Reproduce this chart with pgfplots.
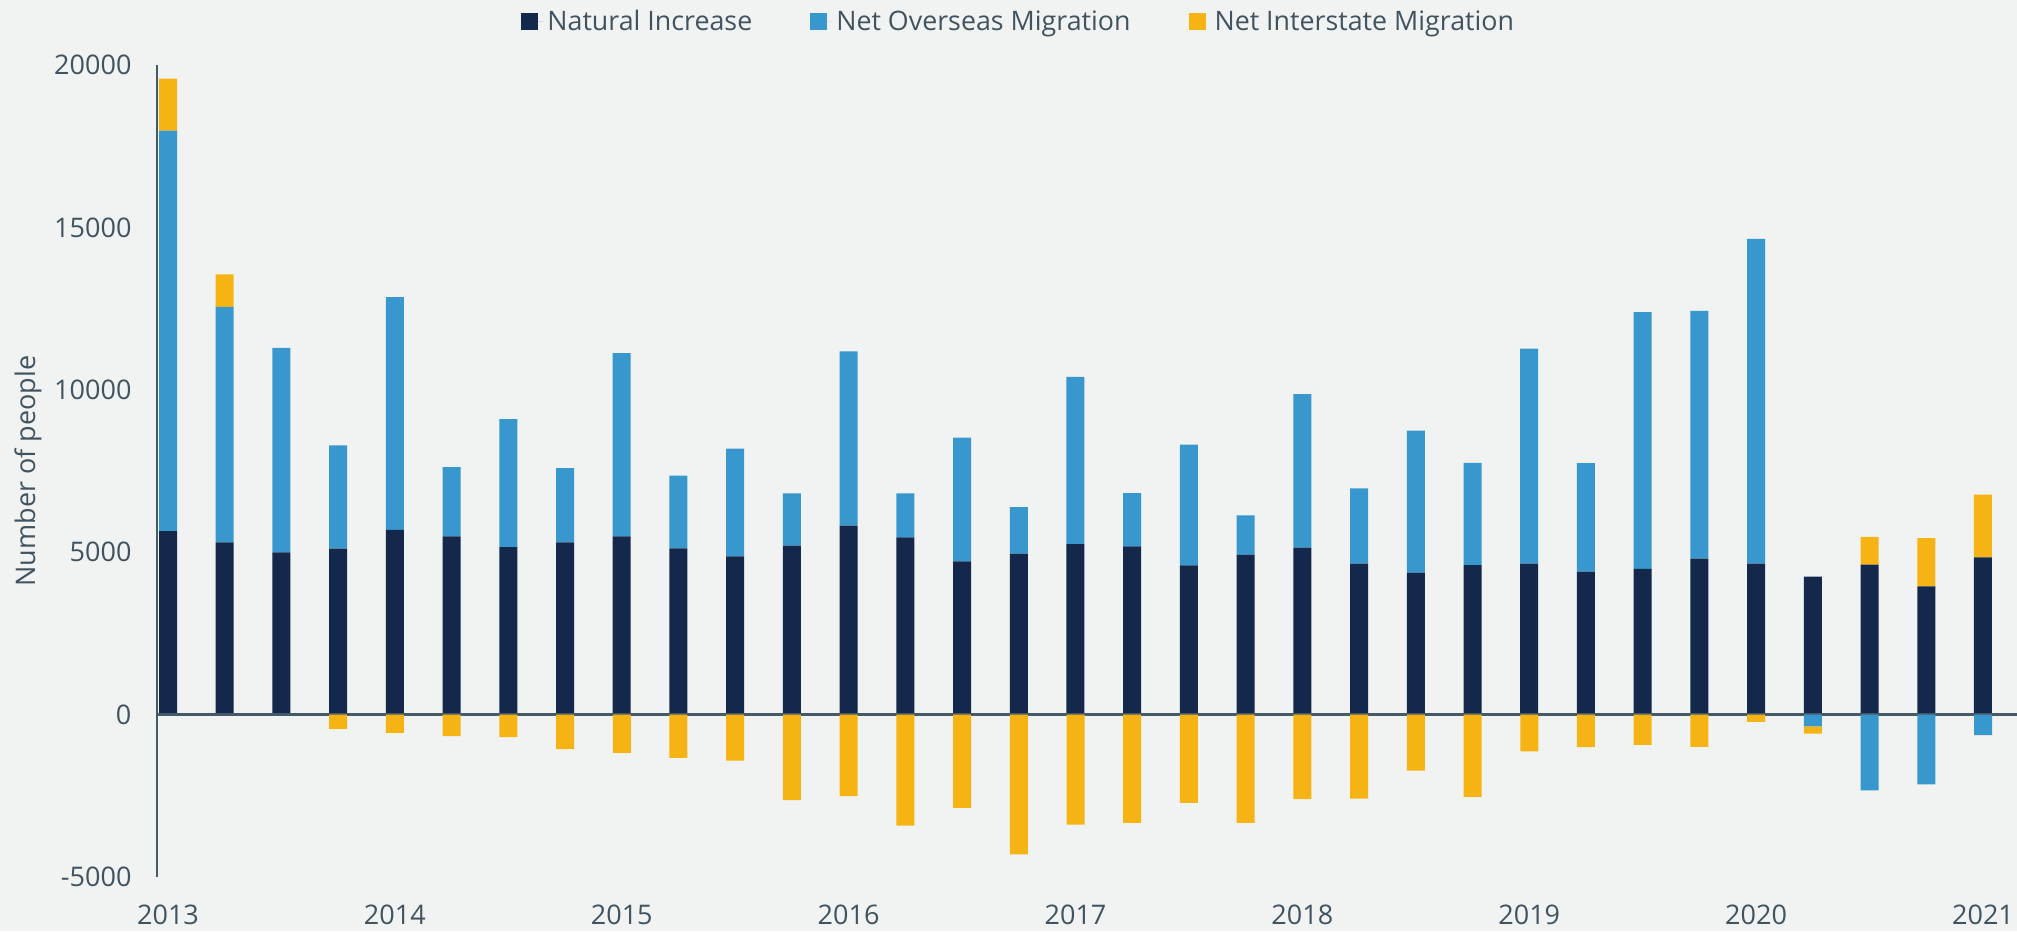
\documentclass[border=0pt]{standalone}
\usepackage{pgfplots}
\pgfplotsset{compat=1.18}
\usepackage{fontspec}
\setmainfont{Open Sans}
\definecolor{navy}{HTML}{13284B}
\definecolor{bluec}{HTML}{3898CD}
\definecolor{yellowc}{HTML}{F5B314}
\definecolor{bgc}{HTML}{F1F3F2}
\definecolor{textc}{HTML}{41535F}
\definecolor{axisc}{HTML}{455A66}
\begin{document}
\begin{tikzpicture}
\path[fill=bgc] (-78.5pt,-27pt) rectangle (930pt,438.5pt);
\path[use as bounding box] (-78.5pt,-27pt) rectangle (930pt,438.5pt);
\pgfplotsset{
  common/.style={
    at={(0pt,0pt)}, anchor=south west, scale only axis,
    width=930pt, height=406pt,
    xmin=-0.194, xmax=32.6, ymin=-5000, ymax=20000,
    ybar stacked, bar width=9pt,
  }
}
\begin{axis}[common,
  axis y line*=left, axis x line*=bottom,
  x axis line style={draw=none},
  y axis line style={draw=axisc, line width=1.4pt},
  major tick length=0pt,
  scaled y ticks=false,
  xtick={0,4,8,12,16,20,24,28,32},
  xticklabels={2013,2014,2015,2016,2017,2018,2019,2020,2021},
  ytick={-5000,0,5000,10000,15000,20000},
  yticklabels={-5000,0,5000,10000,15000,20000},
  every tick label/.append style={font=\fontsize{13.5}{16}\selectfont, text=textc},
  xticklabel style={yshift=-10.5pt},
  yticklabel style={xshift=-9.25pt},
  ylabel={Number of people},
  every axis y label/.style={at={(axis description cs:-0.0694,0.5)}, rotate=90, anchor=center, font=\fontsize{13.5}{16}\selectfont, text=textc},
  legend columns=3,
  legend style={draw=none, fill=none, inner sep=0pt, at={(axis description cs:0.1957,1.053)}, anchor=west,
    font=\fontsize{13.4}{16}\selectfont, text=textc,
    /tikz/every even column/.append style={column sep=27pt}},
  legend image code/.code={\fill[#1] (0pt,-4.25pt) rectangle (8.5pt,4.25pt);\path (0pt,0pt) -- (11pt,0pt);},
]
% Natural Increase
\addplot[fill=navy, draw=none] coordinates {
(0,5650) (1,5300) (2,4995) (3,5110) (4,5690) (5,5490) (6,5160) (7,5300) (8,5490)
(9,5120) (10,4870) (11,5200) (12,5815) (13,5455) (14,4720) (15,4955) (16,5250)
(17,5180) (18,4595) (19,4925) (20,5140) (21,4645) (22,4370) (23,4605) (24,4645)
(25,4400) (26,4490) (27,4800) (28,4645) (29,4245) (30,4615) (31,3950) (32,4840)};
% Net Overseas Migration (positive part)
\addplot[fill=bluec, draw=none] coordinates {
(0,12330) (1,7250) (2,6295) (3,3180) (4,7160) (5,2130) (6,3940) (7,2290) (8,5640)
(9,2240) (10,3315) (11,1610) (12,5365) (13,1355) (14,3810) (15,1435) (16,5150)
(17,1640) (18,3715) (19,1205) (20,4730) (21,2320) (22,4370) (23,3145) (24,6625)
(25,3345) (26,7900) (27,7630) (28,10005) (29,0) (30,0) (31,0) (32,0)};
% Net Interstate Migration (positive part)
\addplot[fill=yellowc, draw=none] coordinates {
(0,1600) (1,1000) (2,0) (3,0) (4,0) (5,0) (6,0) (7,0) (8,0)
(9,0) (10,0) (11,0) (12,0) (13,0) (14,0) (15,0) (16,0)
(17,0) (18,0) (19,0) (20,0) (21,0) (22,0) (23,0) (24,0)
(25,0) (26,0) (27,0) (28,0) (29,0) (30,860) (31,1485) (32,1930)};
\legend{Natural Increase, Net Overseas Migration, Net Interstate Migration}
\end{axis}
\begin{axis}[common, hide axis]
% Net Overseas Migration (negative part)
\addplot[fill=bluec, draw=none] coordinates {
(0,0) (1,0) (2,0) (3,0) (4,0) (5,0) (6,0) (7,0) (8,0)
(9,0) (10,0) (11,0) (12,0) (13,0) (14,0) (15,0) (16,0)
(17,0) (18,0) (19,0) (20,0) (21,0) (22,0) (23,0) (24,0)
(25,0) (26,0) (27,0) (28,0) (29,-360) (30,-2330) (31,-2145) (32,-635)};
% Net Interstate Migration (negative part)
\addplot[fill=yellowc, draw=none] coordinates {
(0,0) (1,0) (2,0) (3,-440) (4,-565) (5,-665) (6,-690) (7,-1060) (8,-1180)
(9,-1330) (10,-1415) (11,-2635) (12,-2510) (13,-3415) (14,-2870) (15,-4300) (16,-3385)
(17,-3330) (18,-2720) (19,-3330) (20,-2605) (21,-2585) (22,-1725) (23,-2535) (24,-1130)
(25,-1005) (26,-935) (27,-995) (28,-225) (29,-225) (30,0) (31,0) (32,0)};
\draw[axisc, line width=1.4pt] (axis cs:-0.194,0) -- (axis cs:32.6,0);
\end{axis}
\end{tikzpicture}
\end{document}
